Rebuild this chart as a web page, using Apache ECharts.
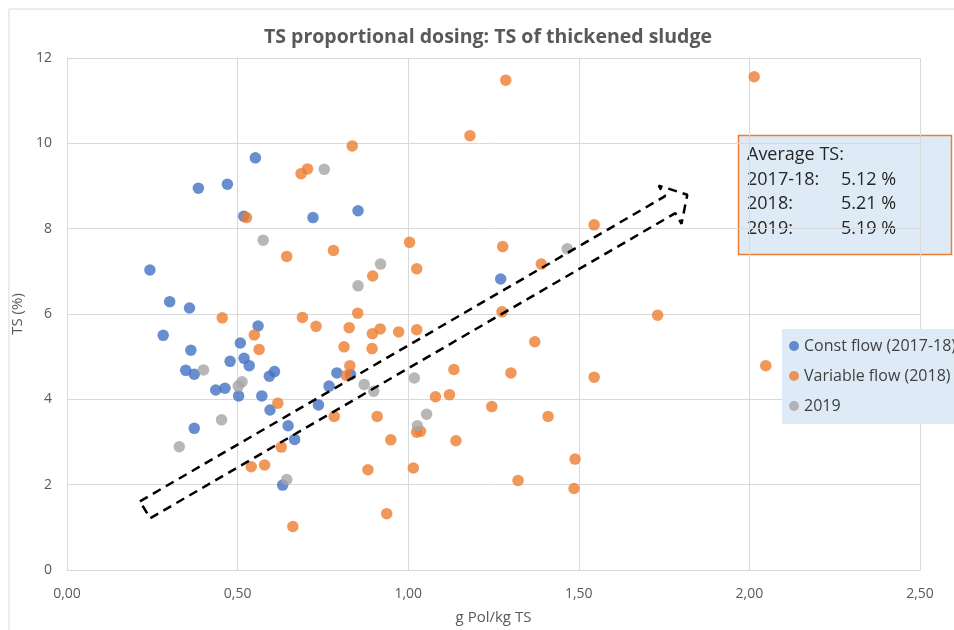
<!DOCTYPE html>
<html>
<head>
<meta charset="utf-8">
<title>TS proportional dosing</title>
<script src="https://cdn.jsdelivr.net/npm/echarts@6/dist/echarts.min.js"></script>
<style>
  html, body { margin: 0; padding: 0; background: #ffffff; }
  #chart { width: 954px; height: 630px; }
</style>
</head>
<body>
<div id="chart"></div>
<script>
// Polymer dose (g Pol/kg TS) vs. TS of thickened sludge (%)
var constFlow = [
  [0.552, 9.66], [0.385, 8.95], [0.470, 9.04], [0.518, 8.29], [0.721, 8.26],
  [0.853, 8.42], [0.243, 7.03], [0.301, 6.29], [0.359, 6.14], [0.560, 5.72],
  [0.282, 5.50], [0.363, 5.15], [0.508, 5.32], [0.478, 4.89], [0.519, 4.96],
  [0.534, 4.79], [0.348, 4.68], [0.373, 4.59], [0.608, 4.65], [0.593, 4.54],
  [0.436, 4.22], [0.463, 4.26], [0.503, 4.08], [0.571, 4.08], [0.595, 3.75],
  [0.768, 4.31], [0.737, 3.87], [0.373, 3.32], [0.648, 3.38], [0.667, 3.06],
  [0.632, 1.99], [0.791, 4.62], [0.831, 4.58], [1.271, 6.82]
];

var variableFlow = [
  [0.705, 9.40], [0.686, 9.29], [0.526, 8.26], [0.644, 7.35], [0.455, 5.91],
  [0.690, 5.92], [0.730, 5.71], [0.549, 5.51], [0.563, 5.17], [0.618, 3.91],
  [0.628, 2.88], [0.540, 2.42], [0.579, 2.46], [0.662, 1.02], [0.836, 9.94],
  [0.781, 7.49], [1.004, 7.68], [0.896, 6.89], [1.025, 7.06], [1.277, 7.58],
  [0.852, 6.02], [0.827, 5.68], [0.918, 5.65], [0.895, 5.54], [0.972, 5.58],
  [1.025, 5.63], [1.275, 6.05], [0.812, 5.23], [0.894, 5.19], [0.829, 4.79],
  [0.819, 4.56], [0.783, 3.60], [0.909, 3.60], [1.134, 4.70], [1.080, 4.06],
  [1.121, 4.11], [1.245, 3.83], [1.025, 3.23], [1.036, 3.25], [0.949, 3.05],
  [1.140, 3.03], [0.882, 2.35], [1.015, 2.39], [0.937, 1.32], [1.286, 11.48],
  [1.545, 8.09], [1.390, 7.17], [1.731, 5.97], [1.181, 10.18], [1.371, 5.35],
  [1.301, 4.62], [1.545, 4.52], [1.410, 3.60], [1.489, 2.60], [1.322, 2.10],
  [1.486, 1.91], [2.014, 11.56], [2.048, 4.79]
];

var year2019 = [
  [0.754, 9.39], [0.575, 7.73], [0.400, 4.69], [0.513, 4.41], [0.502, 4.31],
  [0.453, 3.52], [0.329, 2.89], [0.644, 2.12], [0.919, 7.17], [0.853, 6.66],
  [0.871, 4.35], [0.899, 4.19], [1.018, 4.50], [1.054, 3.65], [1.027, 3.38],
  [1.466, 7.53]
];

// Trend arrow outline (data coordinates), closed polygon
var trendArrow = [
  [0.2137, 1.609], [1.753, 8.761], [1.734, 9.010], [1.818, 8.795],
  [1.801, 8.114], [1.783, 8.364], [0.2436, 1.212], [0.2137, 1.609]
];

var seriesNames = ['Const flow (2017-18)', 'Variable flow (2018)', '2019'];
var seriesColors = ['#4472C4', '#ED7D31', '#A5A5A5'];

var averageLabels = ['2017-18:', '2018:', '2019:'];
var averageValues = ['5.12 %', '5.21 %', '5.19 %'];

var xTicks = { min: 0, max: 2.5, interval: 0.5 };
var yTicks = { min: 0, max: 12, interval: 2 };

var FONT = '"Open Sans", Lato, "Liberation Sans", sans-serif';

var chart = echarts.init(document.getElementById('chart'), null, { renderer: 'canvas' });

function scatterSeries(name, data, color) {
  return {
    name: name,
    type: 'scatter',
    data: data,
    symbol: 'circle',
    symbolSize: 11.5,
    itemStyle: { color: color },
    emphasis: { disabled: true }
  };
}

var boxFont = '18px ' + FONT;
var boxLines = [{
  type: 'text', left: 747, top: 146,
  style: { text: 'Average TS:', font: boxFont, fill: '#262626' }
}];
averageLabels.forEach(function (lab, i) {
  boxLines.push({
    type: 'text', left: 747, top: 170.5 + i * 24.5,
    style: { text: lab, font: boxFont, fill: '#262626' }
  });
  boxLines.push({
    type: 'text', left: 841, top: 170.5 + i * 24.5,
    style: { text: averageValues[i], font: boxFont, fill: '#262626' }
  });
});

var option = {
  animation: false,
  backgroundColor: '#ffffff',
  title: {
    text: 'TS proportional dosing: TS of thickened sludge',
    left: 259,
    top: 22,
    textStyle: { fontFamily: FONT, fontSize: 19.5, fontWeight: 'bold', color: '#595959' }
  },
  grid: { left: 67, right: 34, top: 58, bottom: 53, containLabel: false },
  legend: {
    data: seriesNames,
    orient: 'vertical',
    left: 782,
    top: 329,
    width: 240,
    backgroundColor: '#DEEBF7',
    padding: [7, 40, 8, 7],
    itemGap: 10,
    itemWidth: 10,
    itemHeight: 10,
    icon: 'circle',
    textStyle: { fontFamily: FONT, fontSize: 16, color: '#404040', lineHeight: 20 }
  },
  xAxis: {
    type: 'value',
    min: xTicks.min,
    max: xTicks.max,
    interval: xTicks.interval,
    name: 'g Pol/kg TS',
    nameLocation: 'middle',
    nameGap: 40,
    nameTextStyle: { fontFamily: FONT, fontSize: 15, color: '#595959' },
    axisLine: { show: true, lineStyle: { color: '#D9D9D9', width: 1 } },
    axisTick: { show: false },
    axisLabel: {
      margin: 17,
      fontFamily: FONT, fontSize: 14, color: '#595959',
      formatter: function (v) { return v.toFixed(2).replace('.', ','); }
    },
    splitLine: { show: true, lineStyle: { color: '#D9D9D9', width: 1 } }
  },
  yAxis: {
    type: 'value',
    min: yTicks.min,
    max: yTicks.max,
    interval: yTicks.interval,
    name: 'TS (%)',
    nameLocation: 'middle',
    nameGap: 37,
    nameTextStyle: { fontFamily: FONT, fontSize: 15, color: '#595959' },
    axisLine: { show: true, lineStyle: { color: '#D9D9D9', width: 1 } },
    axisTick: { show: false },
    axisLabel: { margin: 15, fontFamily: FONT, fontSize: 14, color: '#595959' },
    splitLine: { show: true, lineStyle: { color: '#D9D9D9', width: 1 } }
  },
  series: [
    scatterSeries(seriesNames[0], constFlow, seriesColors[0]),
    scatterSeries(seriesNames[1], variableFlow, seriesColors[1]),
    scatterSeries(seriesNames[2], year2019, seriesColors[2]),
    {
      name: 'trend',
      type: 'line',
      data: trendArrow,
      symbol: 'none',
      silent: true,
      z: 5,
      lineStyle: { color: '#000000', width: 2.5, type: [9, 6] },
      emphasis: { disabled: true }
    }
  ],
  graphic: [
    {
      type: 'rect', z: -10, silent: true,
      shape: { x: 9, y: 9, width: 1000, height: 700 },
      style: { fill: 'none', stroke: '#D9D9D9', lineWidth: 1 }
    },
    {
      type: 'group',
      z: 20,
      children: [{
        type: 'rect',
        shape: { x: 738.5, y: 135.5, width: 213, height: 119 },
        style: { fill: '#DEEBF7', stroke: '#ED7D31', lineWidth: 1.5 }
      }].concat(boxLines)
    }
  ]
};

chart.setOption(option);
</script>
</body>
</html>
